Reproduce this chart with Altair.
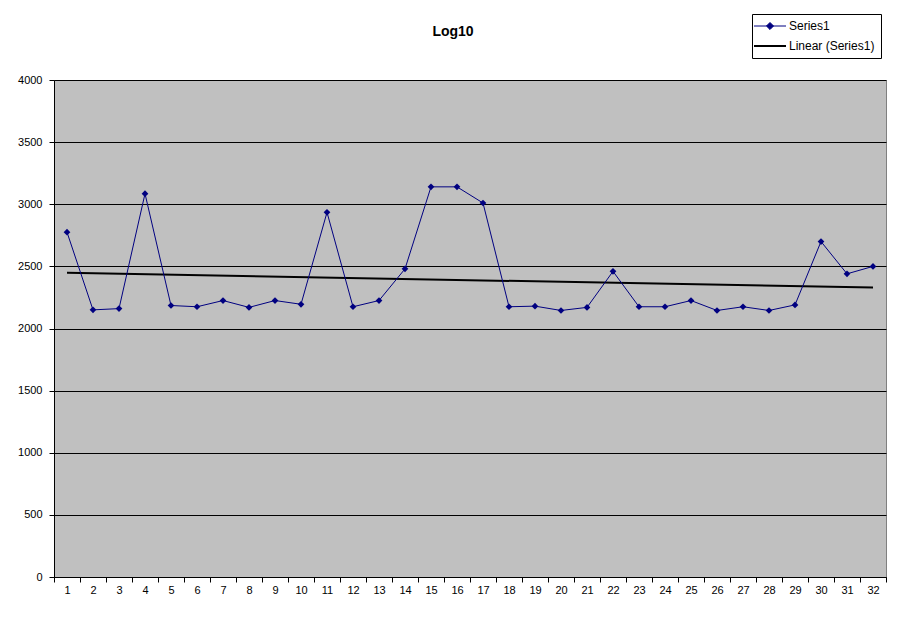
import altair as alt
import pandas as pd

categories = list(range(1, 33))
values = [2775, 2150, 2160, 3085, 2185, 2175, 2225, 2170, 2225, 2195,
          2935, 2175, 2225, 2480, 3140, 3140, 3010, 2175, 2180, 2145,
          2170, 2460, 2175, 2175, 2225, 2145, 2175, 2145, 2190, 2700,
          2440, 2500]
series_names = ["Series1", "Linear (Series1)"]
series_colors = ["#000080", "#000000"]
y_ticks = list(range(0, 4001, 500))

df = pd.DataFrame({"x": categories, "y": values})

FONT = "Liberation Sans"

xenc = alt.X(
    "x:O",
    bandPosition=0.5,
    scale=alt.Scale(type="band", domain=categories, paddingInner=0, paddingOuter=0),
    axis=alt.Axis(title=None, tickBand="extent", labelAngle=0, labelFont=FONT,
                  labelFontSize=11, labelColor="black", tickColor="black",
                  tickSize=5, domainColor="black", labelPadding=2, grid=False),
)
yenc = alt.Y(
    "y:Q",
    scale=alt.Scale(domain=[0, 4000], nice=False),
    axis=alt.Axis(title=None, values=y_ticks, format="d", labelFont=FONT,
                  labelFontSize=11, labelColor="black", tickColor="black",
                  tickSize=5, domainColor="black", gridColor="black",
                  gridOpacity=1, gridWidth=1, labelPadding=7),
)

color = alt.Color(
    "s:N",
    scale=alt.Scale(domain=series_names, range=series_colors),
    legend=alt.Legend(
        title=None, orient="none", legendX=698, legendY=-66,
        fillColor="white", strokeColor="black", padding=6,
        labelFont=FONT, labelFontSize=12, labelColor="black", labelOffset=13,
        symbolOffset=6, rowPadding=8, symbolSize=1024,
        symbolType={"expr": "datum.value === 'Series1' ? 'M-1,0H1M0,-0.22L0.22,0L0,0.22L-0.22,0Z' : 'M-1,0H1'"},
        symbolStrokeWidth={"expr": "datum.value === 'Series1' ? 1 : 2"},
        symbolFillColor={"expr": "datum.value === 'Series1' ? '#000080' : 'transparent'"},
    ),
)

base = alt.Chart(df)

line = base.transform_calculate(s="'Series1'").mark_line(strokeWidth=1).encode(
    x=xenc, y=yenc, color=color
)
points = base.mark_point(shape="diamond", filled=True, size=45, opacity=1).encode(
    x=xenc, y=yenc, color=alt.value("#000080")
)
trend = base.transform_regression("x", "y", extent=[1, 32]).transform_calculate(
    s="'Linear (Series1)'"
).mark_line(strokeWidth=2).encode(x=xenc, y=yenc, color=color)

chart = alt.layer(trend, line, points).properties(
    width=832, height=497,
    title=alt.TitleParams("Log10", font=FONT, fontSize=14, fontWeight="bold",
                          anchor="middle", dx=-17, offset=-25, color="black"),
    autosize=alt.AutoSizeParams(type="none"),
    padding={"left": 46, "top": 72, "right": 14, "bottom": 30},
    background="white",
).configure_view(fill="#C0C0C0", stroke="#808080", strokeWidth=1)

chart.save("out.html", embed_options={"renderer": "svg", "actions": False})
